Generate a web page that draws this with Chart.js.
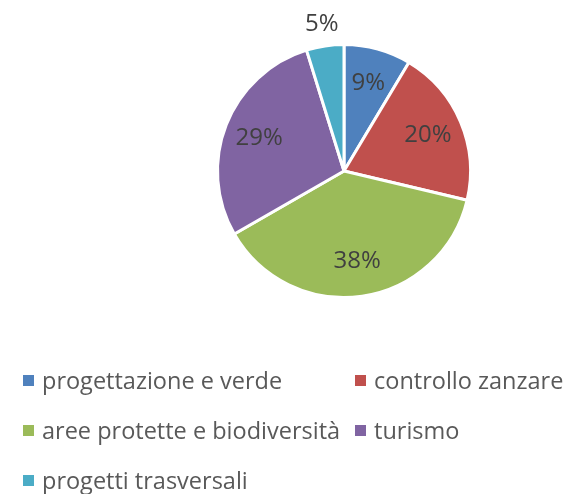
<!DOCTYPE html>
<html lang="it">
<head>
    <meta charset="UTF-8">
    <title>Ripartizione progetti</title>
    <script src="https://cdn.jsdelivr.net/npm/chart.js"></script>
    <style>
        body {
            margin: 0;
            background: #ffffff;
            font-family: "Open Sans", sans-serif;
        }
        .wrap {
            position: relative;
            width: 568px;
            height: 494px;
        }
        .wrap canvas {
            position: absolute;
            left: 0;
            top: 0;
        }
        #legend {
            position: absolute;
            left: 23px;
            top: 365px;
            display: grid;
            grid-template-columns: 332px auto;
            row-gap: 19px;
            font-size: 23.5px;
            line-height: 31px;
            color: #595959;
        }
        .item {
            display: flex;
            align-items: center;
            white-space: nowrap;
        }
        .box {
            width: 11px;
            height: 11px;
            margin-right: 8px;
        }
    </style>
</head>
<body>
    <div class="wrap">
        <canvas id="pieChart" width="568" height="494"></canvas>
        <div id="legend"></div>
    </div>

    <script>
        const categories = [
            'progettazione e verde',
            'controllo zanzare',
            'aree protette e biodiversità',
            'turismo',
            'progetti trasversali'
        ];
        const shares = [8.6, 20.2, 38.1, 28.6, 4.8];
        const colors = ['#4F81BD', '#C0504D', '#9BBB59', '#8064A2', '#4BACC6'];

        // percent labels, drawn inside the slices (small slices go outside)
        const pctLabels = {
            id: 'pctLabels',
            afterDatasetsDraw(chart) {
                const ctx = chart.ctx;
                const total = shares.reduce((a, b) => a + b, 0);
                const meta = chart.getDatasetMeta(0);
                ctx.save();
                ctx.font = '24px "Open Sans"';
                ctx.fillStyle = '#404040';
                ctx.textAlign = 'center';
                ctx.textBaseline = 'middle';
                meta.data.forEach((arc, i) => {
                    const pct = shares[i] / total * 100;
                    const mid = (arc.startAngle + arc.endAngle) / 2;
                    const dist = pct < 6 ? arc.outerRadius + 22 : arc.outerRadius * 0.72;
                    const x = arc.x + Math.cos(mid) * dist;
                    const y = arc.y + Math.sin(mid) * dist;
                    ctx.fillText(Math.round(pct) + '%', x, y);
                });
                ctx.restore();
            }
        };

        new Chart(document.getElementById('pieChart'), {
            type: 'pie',
            data: {
                labels: categories,
                datasets: [{
                    data: shares,
                    backgroundColor: colors,
                    borderColor: '#ffffff',
                    borderWidth: 3,
                    hoverOffset: 0
                }]
            },
            options: {
                responsive: false,
                animation: false,
                layout: {
                    padding: { top: 43, bottom: 195, left: 216, right: 96 }
                },
                plugins: {
                    legend: { display: false },
                    tooltip: { enabled: false }
                }
            },
            plugins: [pctLabels]
        });

        const legend = document.getElementById('legend');
        categories.forEach((name, i) => {
            const item = document.createElement('div');
            item.className = 'item';
            const box = document.createElement('span');
            box.className = 'box';
            box.style.background = colors[i];
            const txt = document.createElement('span');
            txt.textContent = name;
            item.appendChild(box);
            item.appendChild(txt);
            legend.appendChild(item);
        });
    </script>
</body>
</html>
